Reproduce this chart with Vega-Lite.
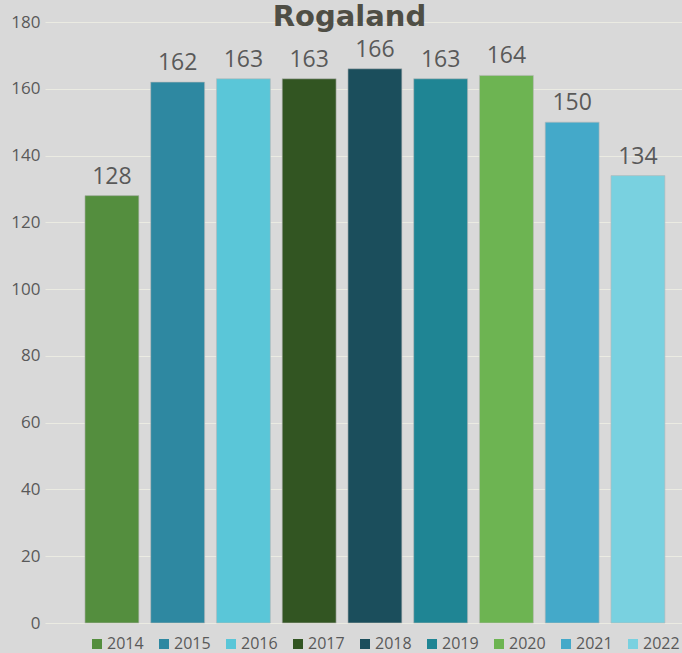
{
  "$schema": "https://vega.github.io/schema/vega-lite/v6.json",
  "autosize": {"type": "none"},
  "width": 637,
  "height": 601,
  "padding": {"left": 45, "top": 22, "right": 0, "bottom": 30},
  "background": "#d9d9d9",
  "config": {"view": {"stroke": null}, "font": "Open Sans"},
  "title": {
    "text": "Rogaland",
    "font": "DejaVu Sans",
    "fontSize": 29,
    "fontWeight": "bold",
    "color": "#4f4e45",
    "anchor": "middle",
    "baseline": "alphabetic",
    "offset": -42,
    "dx": -14
  },
  "data": {
    "values": [
      {"year": "2014", "value": 128},
      {"year": "2015", "value": 162},
      {"year": "2016", "value": 163},
      {"year": "2017", "value": 163},
      {"year": "2018", "value": 166},
      {"year": "2019", "value": 163},
      {"year": "2020", "value": 164},
      {"year": "2021", "value": 150},
      {"year": "2022", "value": 134}
    ]
  },
  "encoding": {
    "x": {
      "field": "year",
      "type": "nominal",
      "scale": {"paddingInner": 0.18, "paddingOuter": 0.434, "align": 0.7},
      "axis": null
    },
    "y": {
      "field": "value",
      "type": "quantitative",
      "scale": {"domain": [0, 180], "nice": false},
      "axis": {
        "values": [0, 20, 40, 60, 80, 100, 120, 140, 160, 180],
        "domain": false,
        "ticks": false,
        "labelPadding": 5,
        "labelFontSize": 17,
        "labelColor": "#595959",
        "labelFont": "Open Sans",
        "gridColor": "#ebebe2",
        "gridWidth": 1,
        "title": null
      }
    }
  },
  "layer": [
    {
      "mark": {"type": "bar", "stroke": "#b9b9b9", "strokeWidth": 0.6},
      "encoding": {
        "color": {
          "field": "year",
          "type": "nominal",
          "scale": {
            "domain": ["2014", "2015", "2016", "2017", "2018", "2019", "2020", "2021", "2022"],
            "range": ["#548e3e", "#2e88a1", "#5ac6d8", "#325522", "#1b4e5c", "#1f8594", "#6db452", "#44a9c9", "#79d1e0"]
          },
          "legend": {
            "orient": "none",
            "legendX": 44,
            "legendY": 614,
            "direction": "horizontal",
            "columns": 9,
            "title": null,
            "symbolType": "square",
            "symbolSize": 100,
            "symbolStrokeWidth": 0,
            "symbolOffset": 0,
            "labelOffset": 2,
            "labelFontSize": 16,
            "labelColor": "#595959",
            "labelFont": "Open Sans",
            "columnPadding": 12
          }
        }
      }
    },
    {
      "mark": {"type": "text", "baseline": "alphabetic", "dy": -12, "fontSize": 23, "color": "#595959", "font": "Open Sans"},
      "encoding": {"text": {"field": "value", "type": "quantitative"}}
    }
  ]
}
